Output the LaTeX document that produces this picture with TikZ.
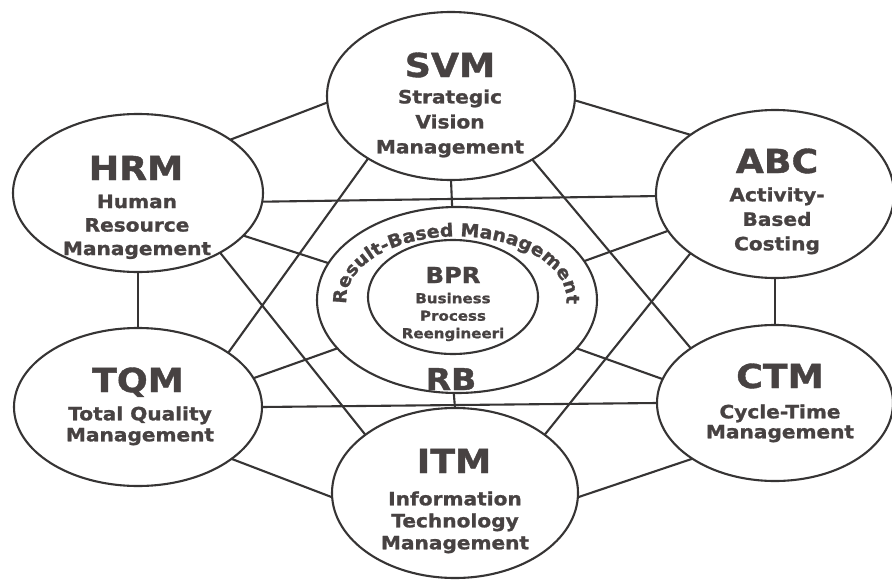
\documentclass[tikz,border=0pt]{standalone}
\usepackage{fontspec}
\newfontfamily\hv[FakeStretch=1.1, BoldFeatures={FakeBold=1.2}]{DejaVu Sans}
\newfontfamily\hvn[FakeStretch=1.05, BoldFeatures={FakeBold=1.2}]{DejaVu Sans}
\usetikzlibrary{decorations.text,shapes.geometric}
\definecolor{ink}{HTML}{363434}
\definecolor{txt}{HTML}{474242}
\begin{document}
\begin{tikzpicture}[x=1pt,y=-1pt,
  ell/.style={ellipse, draw=ink, line width=2.1pt, fill=white, inner sep=0pt, outer sep=0pt},
  link/.style={draw=ink, line width=2.1pt},
  abbr/.style={font=\hv\bfseries\fontsize{#1}{#1}\selectfont, text=txt, inner sep=0pt, anchor=base},
  abbr/.default=33pt,
  subt/.style 2 args={font=\hv\bfseries\fontsize{#1}{#2}\selectfont, text=txt, inner sep=0pt, anchor=north, align=center}]
\useasboundingbox[fill=white] (0,0) rectangle (892,581);
% ellipses
\node[ell, minimum width=248pt, minimum height=168pt] (svm) at (451,96) {};
\node[ell, minimum width=250pt, minimum height=158pt] (hrm) at (138,193) {};
\node[ell, minimum width=238pt, minimum height=168pt] (abc) at (775,194) {};
\node[ell, minimum width=248pt, minimum height=158pt] (tqm) at (138,407) {};
\node[ell, minimum width=236pt, minimum height=156pt] (ctm) at (775,403) {};
\node[ell, minimum width=246pt, minimum height=170pt] (itm) at (455,493) {};
\node[ell, minimum width=280pt, minimum height=186pt] (rbm) at (457,300) {};
\node[ell, minimum width=170pt, minimum height=114pt] (bpr) at (453,297) {};
% connectors
\draw[link] (hrm.30) -- (svm.183);
\draw[link] (svm.358) -- (abc.145);
\draw[link] (hrm.south) -- (tqm.north);
\draw[link] (abc.south) -- (ctm.north);
\draw[link] (tqm.331) -- (itm.182);
\draw[link] (itm.358) -- (ctm.214);
\draw[link] (hrm.356) -- (abc.181);
\draw[link] (tqm.east) -- (ctm.west);
\draw[link] (svm.270) -- (rbm.93);
\draw[link] (rbm.268) -- (itm.north);
\draw[link] (svm.217) -- (tqm.31);
\draw[link] (svm.322) -- (ctm.147);
\draw[link] (hrm.324) -- (itm.147);
\draw[link] (abc.215) -- (itm.33);
\draw[link] (hrm.338) -- (rbm.164);
\draw[link] (tqm.14) -- (rbm.202);
\draw[link] (abc.199) -- (rbm.17);
\draw[link] (ctm.168) -- (rbm.338);
% texts
\node[abbr] (svmA) at (450,77) {SVM};
\node[subt={18.3pt}{25pt}] (svmS) at (450,89.3) {Strategic\\Vision\\Management};
\node[abbr] (hrmA) at (136,180) {HRM};
\node[subt={18.3pt}{23.5pt}] (hrmS) at (137,194.5) {Human\\Resource\\Management};
\node[abbr] (abcA) at (777,173) {ABC};
\node[subt={18.3pt}{24.5pt}] (abcS) at (777,187.2) {Activity-\\Based\\Costing};
\node[abbr] (tqmA) at (138,392) {TQM};
\node[subt={18.3pt}{21pt}] (tqmS) at (140,406.2) {Total Quality\\Management};
\node[abbr] (ctmA) at (780,388) {CTM};
\node[subt={18.3pt}{20pt}] (ctmS) at (780,404.2) {Cycle-Time\\Management};
\node[abbr] (itmA) at (454,473) {ITM};
\node[subt={18.3pt}{22pt}] (itmS) at (455,491.2) {Information\\Technology\\Management};
\node[abbr=22pt] (bprA) at (453,283) {BPR};
\node[subt={13.7pt}{17.5pt}] (bprS) at (453,292.6) {Business\\Process\\Reengineeri};
\node[abbr=30pt] (rbA) at (451,390) {RB};
\path[decorate, decoration={text along path, text align=center, text color=txt,
  text={|\hvn\bfseries\fontsize{18pt}{20pt}\selectfont|Result-Based Management}}]
  ([xshift=-110pt,yshift=-6pt]rbm.center) arc[start angle=174, end angle=366, x radius=110, y radius=63];
\end{tikzpicture}
\end{document}
